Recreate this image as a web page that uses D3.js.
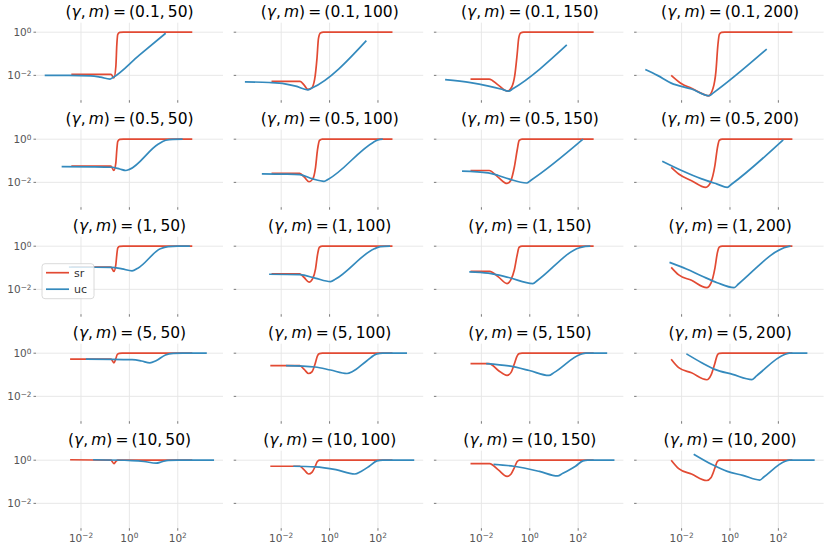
<!DOCTYPE html>
<html>
<head>
<meta charset="utf-8">
<script src="https://cdnjs.cloudflare.com/ajax/libs/d3/7.8.5/d3.min.js"></script>
<style>
  body { margin: 0; background: #fff; }
  svg text { font-family: "DejaVu Sans", sans-serif; }
</style>
</head>
<body>
<div id="chart"></div>
<script>
// panel parameters
const gammas = [0.1, 0.5, 1, 5, 10];
const ms = [50, 100, 150, 200];

// curves, as [log10(x), log10(y)] pairs, SR[row][col] / UC[row][col]
const SR = [
  [
    [[-2.4,-1.95],[-0.76,-1.95],[-0.64,-2.12],[-0.56,-1.6],[-0.52,-0.6],[-0.48,-0.1],[-0.4,-0.01],[-0.25,0],[2.6,0]],
    [[-2.4,-2.28],[-1.22,-2.28],[-1.05,-2.45],[-0.9,-2.65],[-0.75,-2.6],[-0.62,-2.2],[-0.52,-1.2],[-0.46,-0.3],[-0.38,-0.04],[-0.25,0],[2.6,0]],
    [[-2.45,-2.17],[-1.68,-2.17],[-1.3,-2.45],[-0.92,-2.73],[-0.75,-2.55],[-0.62,-2.0],[-0.52,-1.0],[-0.46,-0.3],[-0.38,-0.04],[-0.25,0],[2.64,0]],
    [[-2.43,-2.0],[-2.0,-2.39],[-1.59,-2.6],[-1.06,-2.89],[-0.89,-2.95],[-0.7,-2.6],[-0.58,-1.8],[-0.5,-0.6],[-0.44,-0.1],[-0.35,-0.01],[-0.22,0],[2.58,0]]
  ],
  [
    [[-2.4,-1.25],[-0.76,-1.25],[-0.64,-1.45],[-0.56,-1.1],[-0.52,-0.5],[-0.48,-0.1],[-0.4,-0.01],[-0.25,0],[2.6,0]],
    [[-2.4,-1.58],[-1.23,-1.58],[-1.05,-1.75],[-0.85,-1.97],[-0.7,-1.85],[-0.58,-1.3],[-0.5,-0.5],[-0.42,-0.06],[-0.3,0],[2.6,0]],
    [[-2.45,-1.45],[-1.68,-1.45],[-1.3,-1.77],[-0.94,-2.05],[-0.78,-1.9],[-0.64,-1.3],[-0.52,-0.5],[-0.44,-0.06],[-0.32,0],[2.64,0]],
    [[-2.43,-1.3],[-2.12,-1.61],[-1.59,-1.92],[-1.0,-2.23],[-0.8,-2.0],[-0.62,-1.2],[-0.52,-0.4],[-0.44,-0.05],[-0.32,0],[2.58,0]]
  ],
  [
    [[-2.4,-0.97],[-0.76,-0.97],[-0.64,-1.17],[-0.56,-0.85],[-0.52,-0.4],[-0.48,-0.08],[-0.4,-0.01],[-0.25,0],[2.6,0]],
    [[-2.4,-1.28],[-1.23,-1.28],[-1.05,-1.45],[-0.85,-1.66],[-0.7,-1.5],[-0.58,-1.05],[-0.5,-0.4],[-0.42,-0.05],[-0.3,0],[2.6,0]],
    [[-2.45,-1.17],[-1.66,-1.17],[-1.3,-1.42],[-0.94,-1.73],[-0.78,-1.55],[-0.64,-1.1],[-0.52,-0.4],[-0.44,-0.05],[-0.32,0],[2.64,0]],
    [[-2.43,-0.98],[-2.12,-1.33],[-1.59,-1.58],[-0.96,-1.92],[-0.78,-1.7],[-0.62,-1.0],[-0.52,-0.3],[-0.44,-0.04],[-0.32,0],[2.58,0]]
  ],
  [
    [[-2.45,-0.27],[-0.76,-0.27],[-0.64,-0.45],[-0.56,-0.25],[-0.5,-0.06],[-0.42,-0.01],[-0.3,0],[2.6,0]],
    [[-2.45,-0.58],[-1.23,-0.58],[-1.05,-0.75],[-0.87,-0.94],[-0.72,-0.85],[-0.6,-0.5],[-0.5,-0.12],[-0.42,-0.02],[-0.3,0],[2.6,0]],
    [[-2.45,-0.48],[-1.68,-0.48],[-1.3,-0.8],[-0.94,-1.03],[-0.78,-0.9],[-0.64,-0.5],[-0.52,-0.12],[-0.44,-0.02],[-0.32,0],[2.64,0]],
    [[-2.43,-0.28],[-2.12,-0.67],[-1.59,-0.91],[-0.96,-1.23],[-0.78,-1.0],[-0.62,-0.45],[-0.52,-0.08],[-0.44,-0.01],[-0.32,0],[2.58,0]]
  ],
  [
    [[-2.45,0.02],[-0.76,0.0],[-0.64,-0.16],[-0.56,-0.06],[-0.48,0],[2.6,0]],
    [[-2.45,-0.28],[-1.23,-0.28],[-1.05,-0.45],[-0.87,-0.64],[-0.72,-0.55],[-0.6,-0.3],[-0.5,-0.05],[-0.4,0],[2.6,0]],
    [[-2.45,-0.16],[-1.66,-0.16],[-1.3,-0.45],[-0.94,-0.75],[-0.78,-0.65],[-0.64,-0.35],[-0.52,-0.06],[-0.42,0],[2.64,0]],
    [[-2.43,0],[-2.12,-0.39],[-1.59,-0.64],[-0.96,-0.94],[-0.78,-0.8],[-0.62,-0.35],[-0.52,-0.05],[-0.42,0],[2.58,0]]
  ]
];

const UC = [
  [
    [[-3.5,-2.0],[-2.5,-2.0],[-1.6,-2.02],[-1.2,-2.08],[-0.8,-2.17],[-0.68,-2.1],[0.4,-1.07],[1.5,-0.05]],
    [[-3.5,-2.3],[-2.5,-2.33],[-1.85,-2.39],[-1.4,-2.5],[-0.9,-2.67],[-0.75,-2.6],[1.52,-0.39]],
    [[-3.5,-2.2],[-2.45,-2.34],[-1.7,-2.5],[-1.2,-2.63],[-0.87,-2.73],[-0.7,-2.62],[1.53,-0.59]],
    [[-3.5,-1.73],[-3.0,-2.0],[-2.43,-2.36],[-1.59,-2.63],[-0.85,-2.94],[-0.7,-2.82],[1.52,-0.78]]
  ],
  [
    [[-2.8,-1.27],[-1.5,-1.28],[-0.74,-1.3],[-0.4,-1.38],[-0.15,-1.45],[0.0,-1.4],[1.2,-0.22],[1.5,-0.05],[1.8,-0.005],[2.2,0]],
    [[-2.8,-1.61],[-1.8,-1.62],[-1.23,-1.64],[-0.7,-1.84],[-0.23,-1.95],[-0.05,-1.85],[1.8,-0.15],[2.0,-0.03],[2.2,0]],
    [[-2.8,-1.48],[-1.72,-1.56],[-1.3,-1.68],[-0.87,-1.84],[-0.13,-2.03],[0.05,-1.9],[2.2,0]],
    [[-2.8,-1.02],[-2.0,-1.45],[-1.17,-1.84],[-0.53,-2.08],[-0.11,-2.23],[0.05,-2.1],[2.2,-0.03]]
  ],
  [
    [[-2.5,-0.97],[-0.74,-0.98],[-0.3,-1.05],[0.11,-1.14],[0.35,-1.02],[1.28,-0.12],[1.6,-0.02],[2.0,0],[2.5,0]],
    [[-2.5,-1.3],[-1.23,-1.32],[-0.6,-1.48],[0.04,-1.64],[0.25,-1.52],[1.85,-0.12],[2.1,-0.02],[2.5,0]],
    [[-2.5,-1.19],[-1.72,-1.25],[-0.87,-1.45],[0.13,-1.73],[0.3,-1.6],[2.06,-0.07],[2.3,-0.01],[2.5,0]],
    [[-2.5,-0.75],[-1.8,-1.06],[-1.17,-1.38],[-0.53,-1.69],[0.17,-1.92],[0.35,-1.75],[2.4,-0.02],[2.5,0]]
  ],
  [
    [[-1.8,-0.27],[0.11,-0.3],[0.5,-0.36],[0.85,-0.45],[1.1,-0.35],[1.49,-0.08],[1.81,-0.01],[2.2,0],[3.2,0]],
    [[-1.8,-0.58],[-0.6,-0.64],[0.04,-0.78],[0.72,-0.94],[0.95,-0.85],[1.53,-0.36],[1.96,-0.03],[2.2,0],[3.2,0]],
    [[-1.8,-0.48],[-0.87,-0.59],[-0.02,-0.8],[0.79,-1.03],[1.0,-0.9],[2.11,-0.05],[2.32,0],[3.2,0]],
    [[-1.8,-0.03],[-1.17,-0.44],[-0.63,-0.75],[0.11,-0.98],[0.91,-1.22],[1.1,-1.05],[2.28,-0.05],[2.45,0],[3.2,0]]
  ],
  [
    [[-1.5,0.02],[0.11,-0.02],[0.6,-0.06],[1.11,-0.14],[1.35,-0.07],[1.6,-0.01],[2.0,0],[3.5,0]],
    [[-1.5,-0.28],[-0.6,-0.31],[0.26,-0.44],[1.04,-0.64],[1.3,-0.52],[1.64,-0.28],[1.96,-0.03],[2.2,0],[3.5,0]],
    [[-1.5,-0.19],[-0.66,-0.28],[0.4,-0.52],[1.15,-0.73],[1.35,-0.62],[1.89,-0.28],[2.2,-0.03],[2.4,0],[3.5,0]],
    [[-1.5,0.28],[-0.74,-0.2],[-0.11,-0.52],[0.53,-0.7],[1.23,-0.92],[1.4,-0.78],[2.28,-0.05],[2.45,0],[3.5,0]]
  ]
];

const xTicks = [1e-2, 1e0, 1e2];
const yTicks = [1e0, 1e-2];
const seriesNames = ["sr", "uc"];
const seriesColors = ["#E24A33", "#348ABD"];

// layout
const W = 830, H = 549;
const axLeft0 = 36, colStep = 200.2, axW = 187;
const axTop0 = 22.7, rowStep = 107, axH = 77.5;

const svg = d3.select("#chart").append("svg")
    .attr("width", W)
    .attr("height", H);

const x = d3.scaleLog().domain([Math.pow(10, -3.86), Math.pow(10, 3.87)]).range([0, axW]);
const y = d3.scaleLog().domain([Math.pow(10, -3.15), Math.pow(10, 0.44)]).range([axH, 0]);

const line = d3.line()
    .x(d => x(Math.pow(10, d[0])))
    .y(d => y(Math.pow(10, d[1])))
    .curve(d3.curveMonotoneX);

// superscript tick label: 10^k
function powLabel(sel, v) {
    let k = Math.round(Math.log10(v));
    sel.append("tspan").text("10");
    sel.append("tspan")
        .attr("dy", "-0.45em")
        .attr("font-size", "0.7em")
        .text(k < 0 ? "\u2212" + (-k) : String(k));
}

gammas.forEach((g, r) => {
    ms.forEach((m, c) => {
        let ax = svg.append("g")
            .attr("transform", "translate(" + (axLeft0 + c * colStep) + "," + (axTop0 + r * rowStep) + ")");

        // grid
        ax.selectAll(".vgrid").data(xTicks).enter().append("line")
            .attr("x1", d => x(d)).attr("x2", d => x(d))
            .attr("y1", 0).attr("y2", axH)
            .style("stroke", "#e5e5e5").style("stroke-width", 0.9);
        ax.selectAll(".hgrid").data(yTicks).enter().append("line")
            .attr("x1", 0).attr("x2", axW)
            .attr("y1", d => y(d)).attr("y2", d => y(d))
            .style("stroke", "#e5e5e5").style("stroke-width", 0.9);

        // tick marks
        ax.selectAll(".xtick").data(xTicks).enter().append("line")
            .attr("x1", d => x(d)).attr("x2", d => x(d))
            .attr("y1", axH).attr("y2", axH + 2.5)
            .style("stroke", "#555").style("stroke-width", 0.8);
        ax.selectAll(".ytick").data(yTicks).enter().append("line")
            .attr("x1", -2.5).attr("x2", 0)
            .attr("y1", d => y(d)).attr("y2", d => y(d))
            .style("stroke", "#555").style("stroke-width", 0.8);

        // tick labels only on outer panels
        if (c === 0) {
            ax.selectAll(".ylab").data(yTicks).enter().append("text")
                .attr("x", -4.5)
                .attr("y", d => y(d) + 4)
                .attr("text-anchor", "end")
                .style("font-size", "10.5px")
                .style("fill", "#555")
                .each(function(d) { powLabel(d3.select(this), d); });
        }
        if (r === gammas.length - 1) {
            ax.selectAll(".xlab").data(xTicks).enter().append("text")
                .attr("x", d => x(d))
                .attr("y", axH + 13.5)
                .attr("text-anchor", "middle")
                .style("font-size", "10.5px")
                .style("fill", "#555")
                .each(function(d) { powLabel(d3.select(this), d); });
        }

        // curves, uc drawn over sr
        [SR[r][c], UC[r][c]].forEach((pts, i) => {
            ax.append("path")
                .attr("d", line(pts))
                .style("fill", "none")
                .style("stroke", seriesColors[i])
                .style("stroke-width", 1.7)
                .style("stroke-linejoin", "round");
        });

        // title, mathtext style
        let t = ax.append("text")
            .attr("x", axW / 2)
            .attr("y", -5.5)
            .attr("text-anchor", "middle")
            .style("font-size", "15.5px")
            .style("fill", "#000");
        t.append("tspan").text("(");
        t.append("tspan").style("font-style", "italic").text("\u03b3");
        t.append("tspan").text(",\u2009");
        t.append("tspan").style("font-style", "italic").text("m");
        t.append("tspan").text(")\u2009=\u2009(" + g + ",\u2009" + m + ")");

        // legend in the (1, 50) panel
        if (r === 2 && c === 0) {
            let lg = ax.append("g").attr("transform", "translate(6,27)");
            lg.append("rect")
                .attr("width", 52).attr("height", 35).attr("rx", 3)
                .style("fill", "#fff").style("fill-opacity", 0.8)
                .style("stroke", "#d0d0d0").style("stroke-width", 0.8);
            seriesNames.forEach((s, i) => {
                lg.append("line")
                    .attr("x1", 4).attr("x2", 27)
                    .attr("y1", 9 + i * 16.5).attr("y2", 9 + i * 16.5)
                    .style("stroke", seriesColors[i]).style("stroke-width", 1.7);
                lg.append("text")
                    .attr("x", 32).attr("y", 13 + i * 16.5)
                    .style("font-size", "11px").style("fill", "#333")
                    .text(s);
            });
        }
    });
});
</script>
</body>
</html>
